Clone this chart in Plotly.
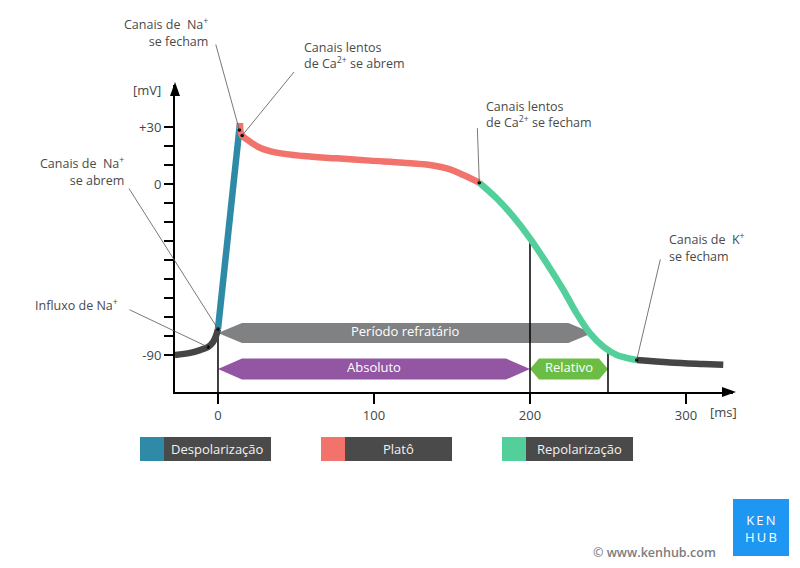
import numpy as np
import plotly.graph_objects as go

# ------------------------------------------------------------------ data
rest_t = [-27.6, -17.9, -11.5, -6.4, -3.2, -1.3, 0.0]
rest_v = [-90.0, -88.9, -87.4, -85.8, -83.2, -80.0, -76.3]
depol_t = [0.0, 14.1]
depol_v = [-76.3, 32.1]
plateau_t = [14.1, 15.2, 20.5, 26.9, 37.6, 54.7, 76.1, 97.4, 118.8, 135.9, 148.7, 157.3, 167.5]
plateau_v = [32.1, 25.8, 22.3, 19.1, 16.5, 14.7, 13.5, 12.3, 11.2, 10.0, 7.7, 4.7, 0.7]
repol_t = [167.5, 178.6, 189.3, 200.0, 210.7, 221.4, 229.9, 238.5, 247.0, 255.6, 268.4]
repol_v = [0.7, -7.5, -17.2, -28.6, -41.7, -55.8, -68.1, -78.6, -85.6, -90.0, -92.6]
after_t = [268.4, 289.7, 311.1, 323.9]
after_v = [-92.6, -93.9, -94.7, -95.1]

event_t = [-6.4, 0.0, 13.7, 15.5, 167.5, 268.4]
event_v = [-85.8, -76.3, 28.4, 25.5, 0.7, -92.6]
SUP = '<sup style="font-size:8px">{}</sup>'
event_labels = [
    "Influxo de Na" + SUP.format("+"),
    "Canais de  Na" + SUP.format("+") + "<br>se abrem",
    "Canais de  Na" + SUP.format("+") + "<br>se fecham",
    "Canais lentos<br>de Ca" + SUP.format("2+") + " se abrem",
    "Canais lentos<br>de Ca" + SUP.format("2+") + " se fecham",
    "Canais de  K" + SUP.format("+") + "<br>se fecham",
]

period_labels = ["Período refratário", "Absoluto", "Relativo"]
period_start = [0, 0, 200]
period_end = [240, 200, 250]
period_level = [-78.4, -97.4, -97.4]

guide_t = [0, 200, 250]

phase_labels = ["Despolarização", "Platô", "Repolarização"]

x_tickvals = [0, 100, 200, 300]
y_tickvals = list(range(-90, 31, 10))
y_ticktext = ["-90"] + [""] * 8 + ["0", "", "", "+30"]

# ------------------------------------------------------------------ style
# page body has an 8px margin, so the figure is 792x560 and starts at (8, 8)
W, H = 792, 560
L, R, T, B = 167, 67, 77, 176
PW, PH = W - L - R, H - T - B
X_RANGE = [-27.56, 330.13]
Y_RANGE = [-109.47, 52.1]
MS_PER_PX = (X_RANGE[1] - X_RANGE[0]) / PW
MV_PER_PX = (Y_RANGE[1] - Y_RANGE[0]) / PH
SX0, SY1 = 175, 392  # screen position of plot-area left / bottom

def pxx(x):
    return (x - SX0) / PW

def pxy(y):
    return (SY1 - y) / PH

FONT = "Open Sans"
C_BLACK = "#454545"
C_BLUE = "#2e8aa6"
C_RED = "#f1736b"
C_GREEN = "#52cf9b"
phase_colors = [C_BLUE, C_RED, C_GREEN]
period_colors = ["#808183", "#9356a2", "#6cbd45"]
period_tip_px = [24, 24, 9]
period_half_px = [10, 10.5, 10.5]

fig = go.Figure()

# period bars (hexagonal arrows)
for lab, s, e, c, col, tip, hh in zip(period_labels, period_start, period_end, period_level,
                                       period_colors, period_tip_px, period_half_px):
    k = tip * MS_PER_PX
    h = hh * MV_PER_PX
    xs = [s, s + k, e - k, e, e - k, s + k, s]
    ys = [c, c + h, c + h, c, c - h, c - h, c]
    fig.add_trace(go.Scatter(x=xs, y=ys, fill="toself", fillcolor=col, mode="lines",
                             line=dict(width=0, color=col), hoverinfo="skip"))
    fig.add_trace(go.Scatter(x=[(s + e) / 2], y=[c], mode="text", text=[lab],
                             textfont=dict(family=FONT, size=13, color="white"),
                             hoverinfo="skip"))

# vertical guide lines
all_t = rest_t + depol_t[1:] + plateau_t[1:] + repol_t[1:] + after_t[1:]
all_v = rest_v + depol_v[1:] + plateau_v[1:] + repol_v[1:] + after_v[1:]
for g in guide_t:
    gv = float(np.interp(g, all_t, all_v))
    fig.add_trace(go.Scatter(x=[g, g], y=[gv, Y_RANGE[0]], mode="lines",
                             line=dict(color="black", width=1.5), hoverinfo="skip"))

# curve segments
LW = 6.5
fig.add_trace(go.Scatter(x=rest_t, y=rest_v, mode="lines", line=dict(color=C_BLACK, width=LW, shape="spline")))
fig.add_trace(go.Scatter(x=depol_t, y=depol_v, mode="lines", line=dict(color=C_BLUE, width=LW)))
fig.add_trace(go.Scatter(x=plateau_t, y=plateau_v, mode="lines", line=dict(color=C_RED, width=LW, shape="spline")))
fig.add_trace(go.Scatter(x=repol_t, y=repol_v, mode="lines", line=dict(color=C_GREEN, width=LW, shape="spline")))
fig.add_trace(go.Scatter(x=after_t, y=after_v, mode="lines", line=dict(color=C_BLACK, width=LW, shape="spline")))

# event dots
fig.add_trace(go.Scatter(x=event_t, y=event_v, mode="markers",
                         marker=dict(color="black", size=3.5), cliponaxis=False))

annotations = []
# callouts: (tail dx, tail dy, text xshift, text yshift, anchor)
callout_geo = [
    (-80, -38, -88, 42, "right"),
    (-90, -142, -92, 157.5, "right"),
    (-24, -87, -29, 97.5, "right"),
    (53, -65, 60, 80, "left"),
    (-2, -56, 5, 68, "left"),
    (24, -102, 30, 112, "left"),
]
for t, v, lab, (adx, ady, xs, ys, anc) in zip(event_t, event_v, event_labels, callout_geo):
    annotations.append(dict(x=t, y=v, xref="x", yref="y", text="", showarrow=True,
                            ax=adx, ay=ady, arrowhead=0, arrowwidth=0.8,
                            arrowcolor="#555555", standoff=0))
    annotations.append(dict(x=t, y=v, xref="x", yref="y", text=lab, showarrow=False,
                            xshift=xs, yshift=ys, xanchor=anc, yanchor="middle", align=anc,
                            font=dict(family=FONT, size=12.5, color="#4a4a4a")))

def paper_text(x, y, text, size=13, color="#444", xanchor="center", weight=None):
    f = dict(family=FONT, size=size, color=color)
    if weight:
        f["weight"] = weight
    return dict(x=pxx(x), y=pxy(y), xref="paper", yref="paper", text=text, showarrow=False,
                xanchor=xanchor, yanchor="middle", font=f)

# unit labels
annotations.append(paper_text(147, 90, "[mV]"))
annotations.append(paper_text(723, 412, "[ms]"))

shapes = []
# axis arrowheads
def tri(p):
    pts = " L ".join(f"{pxx(a):.5f},{pxy(b):.5f}" for a, b in p)
    return "M " + pts + " Z"

shapes.append(dict(type="path", xref="paper", yref="paper",
                   path=tri([(175, 82), (170, 96), (180, 96)]),
                   fillcolor="black", line=dict(width=0), layer="above"))
shapes.append(dict(type="path", xref="paper", yref="paper",
                   path=tri([(736, 392), (722, 387), (722, 397)]),
                   fillcolor="black", line=dict(width=0), layer="above"))

# phase legend
legend_left = [140, 321, 502]
for lab, col, x0 in zip(phase_labels, phase_colors, legend_left):
    shapes.append(dict(type="rect", xref="paper", yref="paper", x0=pxx(x0), x1=pxx(x0 + 131),
                       y0=pxy(461), y1=pxy(437), fillcolor="#4a4a4a", line=dict(width=0),
                       layer="below"))
    shapes.append(dict(type="rect", xref="paper", yref="paper", x0=pxx(x0), x1=pxx(x0 + 24),
                       y0=pxy(461), y1=pxy(437), fillcolor=col, line=dict(width=0),
                       layer="below"))
    annotations.append(paper_text(x0 + 24 + 53.5, 449, lab, color="#f2f2f2"))

# logo
shapes.append(dict(type="rect", xref="paper", yref="paper", x0=pxx(733), x1=pxx(789),
                   y0=pxy(556), y1=pxy(499), fillcolor="#1e97f3", line=dict(width=0),
                   layer="below"))
annotations.append(paper_text(761, 528, "K\u2009E\u2009N<br>H\u2009U\u2009B", color="white"))
annotations.append(paper_text(718, 552, "© www.kenhub.com", size=12.5, color="#7d7d7d",
                              xanchor="right", weight=600))

fig.update_layout(
    width=W, height=H,
    margin=dict(l=L, r=R, t=T, b=B, pad=0),
    paper_bgcolor="white", plot_bgcolor="white",
    showlegend=False,
    font=dict(family=FONT, size=13, color="#444"),
    shapes=shapes, annotations=annotations,
    xaxis=dict(range=X_RANGE, showgrid=False, zeroline=False, showline=True,
               linecolor="black", linewidth=2, ticks="outside", ticklen=10, tickwidth=1.5,
               tickcolor="black", tickvals=x_tickvals, ticktext=[str(v) for v in x_tickvals],
               tickfont=dict(family=FONT, size=13, color="#444")),
    yaxis=dict(range=Y_RANGE, showgrid=False, zeroline=False, showline=True,
               linecolor="black", linewidth=2, ticks="outside", ticklen=9, tickwidth=2,
               tickcolor="black", tickvals=y_tickvals, ticktext=y_ticktext,
               tickfont=dict(family=FONT, size=13, color="#444")),
)

fig.write_html("out.html")
